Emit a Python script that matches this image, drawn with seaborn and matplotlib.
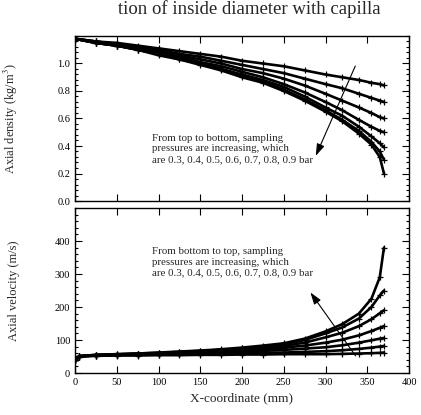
import numpy as np
import pandas as pd
import matplotlib
matplotlib.use("Agg")
import matplotlib.pyplot as plt
from matplotlib.ticker import MultipleLocator
import seaborn as sns

# ---- data ----
pressures = [0.3, 0.4, 0.5, 0.6, 0.7, 0.8, 0.9]

x_dens = [0, 25, 50, 75, 100, 125, 150, 175, 200, 225, 250, 275, 300, 320, 340, 355, 365, 370]
dens_03 = [1.18, 1.16, 1.15, 1.13, 1.11, 1.09, 1.07, 1.05, 1.02, 1.00, 0.98, 0.95, 0.92, 0.90, 0.88, 0.86, 0.85, 0.84]
dens_04 = [1.18, 1.16, 1.14, 1.12, 1.10, 1.07, 1.05, 1.02, 0.99, 0.96, 0.93, 0.89, 0.85, 0.82, 0.78, 0.75, 0.73, 0.72]
dens_05 = [1.18, 1.16, 1.14, 1.11, 1.09, 1.06, 1.03, 1.00, 0.96, 0.93, 0.89, 0.84, 0.78, 0.73, 0.68, 0.64, 0.61, 0.60]
dens_06 = [1.18, 1.15, 1.13, 1.11, 1.08, 1.05, 1.01, 0.98, 0.94, 0.90, 0.85, 0.79, 0.72, 0.66, 0.59, 0.54, 0.51, 0.50]
dens_07 = [1.18, 1.15, 1.13, 1.10, 1.07, 1.04, 1.00, 0.96, 0.92, 0.88, 0.83, 0.76, 0.68, 0.62, 0.54, 0.47, 0.42, 0.39]
dens_08 = [1.18, 1.15, 1.13, 1.10, 1.07, 1.03, 1.00, 0.96, 0.91, 0.87, 0.81, 0.74, 0.66, 0.59, 0.51, 0.43, 0.36, 0.30]
dens_09 = [1.18, 1.15, 1.13, 1.10, 1.06, 1.03, 0.99, 0.95, 0.90, 0.86, 0.80, 0.73, 0.65, 0.58, 0.49, 0.41, 0.32, 0.20]

x_vel = [0, 5, 25, 50, 75, 100, 125, 150, 175, 200, 225, 250, 275, 300, 320, 340, 355, 365, 370]
vel_03 = [38, 50, 52, 53, 53, 54, 54, 55, 55, 56, 56, 57, 57, 57, 58, 59, 60, 61, 62]
vel_04 = [38, 50, 53, 54, 55, 56, 57, 58, 59, 60, 61, 62, 64, 66, 69, 73, 77, 80, 82]
vel_05 = [38, 50, 53, 55, 56, 57, 59, 61, 63, 65, 67, 70, 74, 78, 84, 92, 99, 104, 106]
vel_06 = [38, 51, 54, 56, 57, 59, 61, 63, 66, 69, 72, 77, 83, 92, 101, 114, 127, 137, 142]
vel_07 = [38, 51, 54, 56, 58, 60, 62, 65, 68, 72, 76, 82, 92, 108, 122, 142, 163, 181, 190]
vel_08 = [38, 51, 55, 57, 59, 61, 64, 67, 70, 75, 80, 87, 100, 120, 138, 165, 200, 235, 250]
vel_09 = [38, 51, 55, 57, 59, 62, 65, 68, 72, 77, 83, 90, 104, 126, 148, 180, 225, 290, 380]

x_ticks = [0, 50, 100, 150, 200, 250, 300, 350, 400]
dens_ticks = [0.0, 0.2, 0.4, 0.6, 0.8, 1.0]
vel_ticks = [0, 100, 200, 300, 400]

dens_series = [dens_03, dens_04, dens_05, dens_06, dens_07, dens_08, dens_09]
vel_series = [vel_03, vel_04, vel_05, vel_06, vel_07, vel_08, vel_09]

dens_df = pd.concat([pd.DataFrame({"x": x_dens, "y": s, "p": p})
                     for s, p in zip(dens_series, pressures)], ignore_index=True)
vel_df = pd.concat([pd.DataFrame({"x": x_vel, "y": s, "p": p})
                    for s, p in zip(vel_series, pressures)], ignore_index=True)

# ---- style ----
sns.set_theme(style="ticks")
plt.rcParams["font.family"] = ["Liberation Serif", "DejaVu Serif"]
plt.rcParams["mathtext.fontset"] = "stix"

fig = plt.figure(figsize=(4.21, 4.15), dpi=100)
L, R = 75 / 421, 409 / 421
ax1 = fig.add_axes([L, 1 - 201 / 415, R - L, 165 / 415])
ax2 = fig.add_axes([L, 1 - 373 / 415, R - L, 165 / 415])

for ax, df in ((ax1, dens_df), (ax2, vel_df)):
    sns.lineplot(data=df, x="x", y="y", hue="p", palette=["black"] * 7,
                 marker="+", markersize=4.5, markeredgewidth=0.9,
                 markeredgecolor="black", linewidth=1.9,
                 legend=False, ax=ax, sort=True)
    ax.set_xlim(0, 400)
    ax.set_xticks(x_ticks)
    ax.tick_params(direction="in", top=True, right=True, which="both",
                   labelsize=7.5, colors="black", width=0.8)
    ax.tick_params(which="major", length=5)
    ax.tick_params(which="minor", length=2.5)
    for sp in ax.spines.values():
        sp.set_linewidth(1.0)
        sp.set_color("black")
    ax.set_xlabel("")

ax1.set_ylim(0, 1.2)
ax1.set_yticks(dens_ticks)
ax1.yaxis.set_minor_locator(MultipleLocator(0.04))
ax1.set_xticklabels([])
ax1.set_yticklabels([f"{t:.1f}" for t in dens_ticks])
ax1.set_ylabel("Axial density (kg/m$^3$)", fontsize=9)

ax2.set_ylim(0, 500)
ax2.set_yticks(vel_ticks)
ax2.yaxis.set_minor_locator(MultipleLocator(20))
ax2.set_xticklabels([str(t) for t in x_ticks])
ax2.set_ylabel("Axial velocity (m/s)", fontsize=9)
ax2.set_xlabel("X-coordinate (mm)", fontsize=9.5)

for ax in (ax1, ax2):
    ax.yaxis.set_label_coords(-0.165, 0.5)

ax1.text(92, 0.49, "From top to bottom, sampling\npressures are increasing, which\n"
         "are 0.3, 0.4, 0.5, 0.6, 0.7, 0.8, 0.9 bar",
         fontsize=7.8, va="top", ha="left", linespacing=1.25)
ax2.text(92, 382, "From bottom to top, sampling\npressures are increasing, which\n"
         "are 0.3, 0.4, 0.5, 0.6, 0.7, 0.8, 0.9 bar",
         fontsize=7.8, va="top", ha="left", linespacing=1.25)

ax1.annotate("", xy=(287, 0.31), xytext=(337, 1.00),
             arrowprops=dict(arrowstyle="-|>,head_length=0.6,head_width=0.2",
                             color="black", lw=0.8))
ax2.annotate("", xy=(280, 251), xytext=(338, 45),
             arrowprops=dict(arrowstyle="-|>,head_length=0.6,head_width=0.2",
                             color="black", lw=0.8))

fig.text(0.28, 1 - 14 / 415, "tion of inside diameter with capilla",
         fontsize=13.5, va="baseline", ha="left")

fig.savefig("out.png", dpi=100)
